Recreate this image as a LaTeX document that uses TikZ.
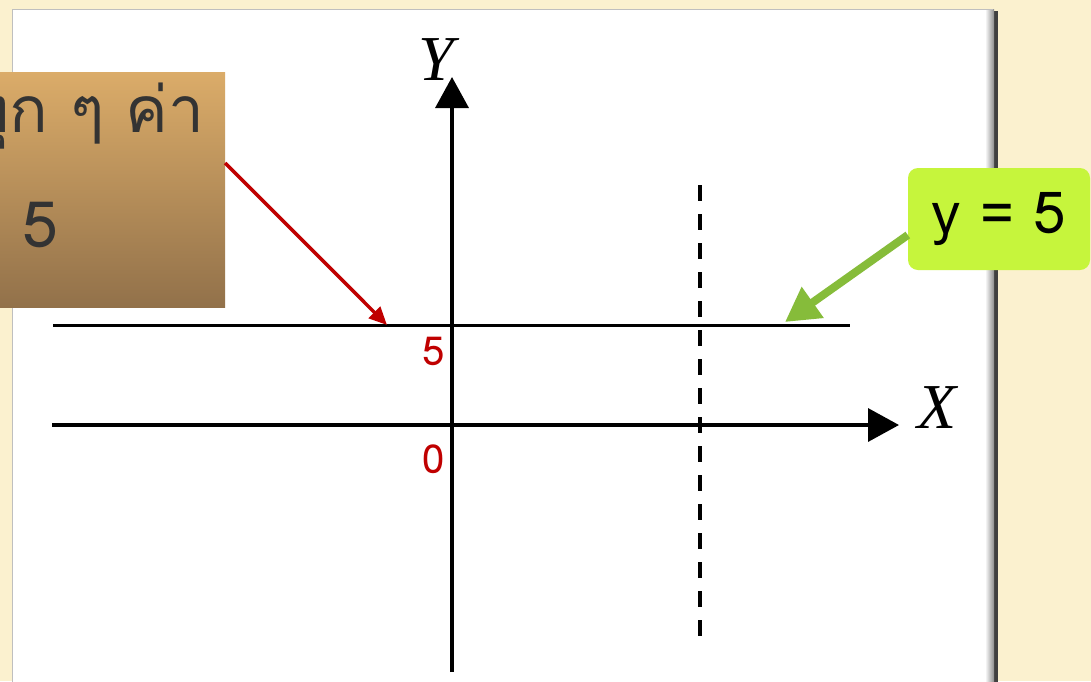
\documentclass[tikz,border=0pt]{standalone}
\usepackage{fontspec}
\usepackage{xcolor}
\usepackage{tikz}
\usetikzlibrary{positioning,calc,arrows.meta}
\newfontfamily\thaifont[Script=Thai]{Loma}
\newfontfamily\axisfont{Liberation Serif}
\definecolor{cream}{HTML}{FBF1CF}
\definecolor{brownTop}{HTML}{DBAC69}
\definecolor{brownBot}{HTML}{92714A}
\definecolor{limebox}{HTML}{C6F53C}
\definecolor{arrowgreen}{HTML}{86BC3A}
\definecolor{darkred}{HTML}{C00000}

\begin{document}
\begin{tikzpicture}[
    x=1pt, y=-1pt,
    axis/.style={line width=3.5pt, -{Triangle[length=31pt, width=33pt]}},
    axlabel/.style={font=\axisfont\itshape\fontsize{64}{64}\selectfont, inner sep=0pt},
    tick/.style={text=darkred, font=\thaifont\fontsize{40}{40}\selectfont, inner sep=0pt},
    notebox/.style={top color=brownTop, bottom color=brownBot, minimum width=345pt, minimum height=235pt, inner sep=0pt},
    notetext/.style={font=\thaifont\fontsize{64}{64}\selectfont, text=black!80, inner sep=0pt},
    eqbox/.style={fill=limebox, rounded corners=10pt, minimum width=182pt, minimum height=102pt,
        font=\thaifont\fontsize{58}{58}\selectfont},
    redarrow/.style={draw=darkred, line width=3.5pt, -{Triangle[length=18pt, width=16pt]}},
    greenarrow/.style={draw=arrowgreen, line width=8pt, -{Triangle[length=34pt, width=36pt]}}
]
\useasboundingbox (0,0) rectangle (1091,681);
\clip (0,0) rectangle (1091,681);
% background and white panel
\fill[cream] (0,0) rectangle (1091,681);
\fill[black!75] (14,11) rectangle (998,700);
\fill[white] (12,9) rectangle (993,700);
\shade[left color=white, right color=black!45] (985,9) rectangle (994,700);
\draw[black!25] (12,700) -- (12,9) -- (993,9);

% axes
\coordinate (xs) at (52,425);
\coordinate (xe) at (899,425);
\coordinate (ys) at (452,672);
\coordinate (ye) at (452,77);
\draw[axis] (xs) -- (xe);
\draw[axis] (ys) -- (ye);
\node[axlabel] (xlab) at (937,408) {X};
\node[axlabel] (ylab) at (436,60) {Y};

% line y = 5 and dashed line
\coordinate (ls) at (53,325);
\coordinate (le) at (850,325);
\draw[line width=3pt] (ls) -- (le);
\coordinate (ds) at (700,185);
\coordinate (de) at (700,637);
\draw[line width=4pt, dash pattern=on 16pt off 13pt] (ds) -- (de);

\node[tick] (five) at (434,351) {5};
\node[tick] (zero) at (434,459) {0};

% brown note
\node[notebox] (note) at (52.5,189.5) {};
\node[notetext, anchor=base east] (noteA) at (205,132) {ทุก ๆ ค่า};
\node[notetext, anchor=base west] (noteB) at (22,247) {5};
\coordinate (rtip) at (387,325);
\draw[redarrow] ([yshift=26.5pt]note.east) -- (rtip);

% green callout
\node[eqbox] (eq) at (999,219) {y = 5};
\coordinate (gtip) at (785,322);
\draw[greenarrow] ([yshift=-16pt]eq.west) -- (gtip);
\end{tikzpicture}
\end{document}
